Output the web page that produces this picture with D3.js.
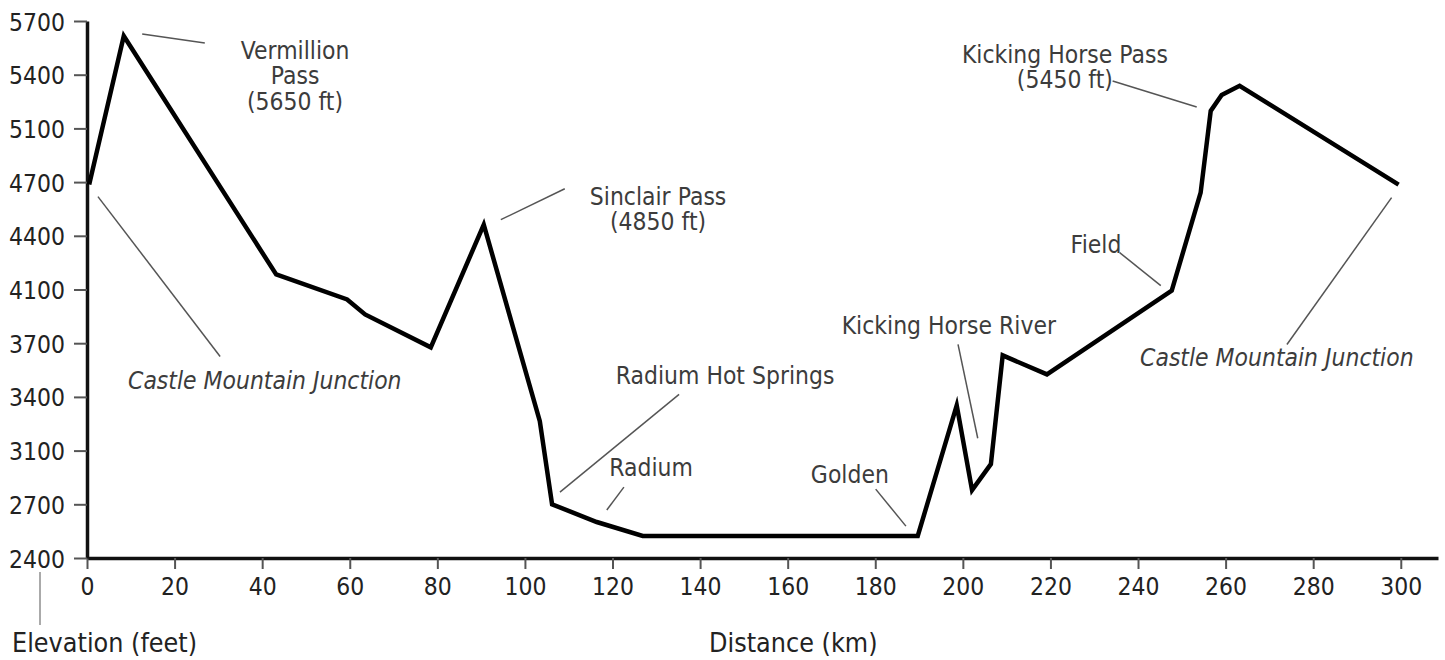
<!DOCTYPE html>
<html lang="en">
<head>
  <meta charset="UTF-8">
  <title>Elevation profile</title>
  <script src="https://d3js.org/d3.v7.min.js"></script>
  <style>
    body { margin: 0; background: #fff; }
  </style>
</head>
<body>
<div id="chart"></div>

<script>
  // route profile: distance (km) and elevation (feet)
  var distanceKm = [0.5, 8.4, 43.2, 59.4, 63.5, 78.5, 90.6, 103.4, 106.2, 116.4, 126.9,
    189.7, 198.6, 202.1, 206.4, 209.1, 219.2, 247.7, 254.3, 256.6, 259.1, 263.2, 299.5];
  var elevationFt = [4686, 5616, 4184, 4026, 3914, 3677, 4462, 3264, 2700, 2601, 2523,
    2523, 3353, 2806, 2999, 3632, 3526, 4092, 4641, 5198, 5287, 5338, 4686];

  // axis ticks (the y labels are evenly spaced on the page)
  var yTicks = [2400, 2700, 3100, 3400, 3700, 4100, 4400, 4700, 5100, 5400, 5700];
  var xTicks = [0, 20, 40, 60, 80, 100, 120, 140, 160, 180, 200, 220, 240, 260, 280, 300];

  // place names, anchored in km / feet
  var places = [
    { lines: ["Vermillion", "Pass", "(5650 ft)"], km: 47.5, ft: 5488 },
    { lines: ["Sinclair Pass", "(4850 ft)"], km: 130.4, ft: 4574 },
    { lines: ["Radium Hot Springs"], km: 145.7, ft: 3470 },
    { lines: ["Radium"], km: 128.8, ft: 2910 },
    { lines: ["Golden"], km: 174.2, ft: 2858 },
    { lines: ["Kicking Horse River"], km: 196.8, ft: 3766 },
    { lines: ["Field"], km: 230.4, ft: 4306 },
    { lines: ["Kicking Horse Pass", "(5450 ft)"], km: 223.3, ft: 5466 },
    { lines: ["Castle Mountain Junction"], km: 40.6, ft: 3442 },
    { lines: ["Castle Mountain Junction"], km: 271.7, ft: 3571 }
  ];

  // pointer lines: [km1, ft1, km2, ft2]
  var pointers = [
    [12.6, 5627, 26.9, 5577],
    [2.5, 4619, 30.4, 3626],
    [94.5, 4490, 109.1, 4663],
    [108.0, 2791, 135.2, 3414],
    [118.7, 2668, 122.6, 2828],
    [180.1, 2813, 187.0, 2578],
    [198.9, 3693, 203.4, 3169],
    [235.8, 4306, 245.2, 4122],
    [234.2, 5365, 253.4, 5220],
    [297.9, 4613, 274.0, 3693]
  ];

  var width = 1445, height = 660;
  var plotLeft = 87, plotRight = 1438, plotTop = 21, plotBottom = 558;
  var font = "'DejaVu Sans', sans-serif";
  var stretch = 1.12; // the lettering in the original is a bit tall

  var svg = d3.select("#chart")
    .append("svg")
    .attr("width", width)
    .attr("height", height);

  var x = d3.scaleLinear()
    .domain([0, 308.5])
    .range([plotLeft, plotRight]);

  var step = (plotBottom - plotTop) / (yTicks.length - 1);
  var y = d3.scaleLinear()
    .domain(yTicks)
    .range(yTicks.map(function(d, i) { return plotBottom - i * step; }));

  // x axis
  var gx = svg.append("g")
    .attr("transform", "translate(0," + plotBottom + ")")
    .call(d3.axisBottom(x).tickValues(xTicks).tickSize(11).tickSizeOuter(0));
  gx.select(".domain").attr("stroke", "#111").attr("stroke-width", 3.5);
  gx.selectAll(".tick line").attr("stroke", "#555").attr("stroke-width", 2);
  gx.selectAll(".tick text")
    .attr("y", 0).attr("dy", null)
    .attr("transform", "translate(0,37) scale(1," + stretch + ")")
    .style("font-family", font).style("font-size", "22px").attr("fill", "#222");

  // y axis
  var gy = svg.append("g")
    .attr("transform", "translate(" + plotLeft + ",0)")
    .call(d3.axisLeft(y).tickValues(yTicks).tickFormat(d3.format("d"))
      .tickSize(13).tickSizeOuter(0));
  gy.select(".domain").attr("stroke", "#111").attr("stroke-width", 3.5);
  gy.selectAll(".tick line").attr("stroke", "#555").attr("stroke-width", 2);
  gy.selectAll(".tick text")
    .attr("x", 0).attr("dy", null)
    .attr("transform", "translate(-22,9) scale(1," + stretch + ")")
    .style("font-family", font).style("font-size", "22px").attr("fill", "#222");

  // pointer lines
  svg.append("g")
    .selectAll("line")
    .data(pointers)
    .enter()
    .append("line")
    .attr("x1", function(d) { return x(d[0]); })
    .attr("y1", function(d) { return y(d[1]); })
    .attr("x2", function(d) { return x(d[2]); })
    .attr("y2", function(d) { return y(d[3]); })
    .attr("stroke", "#555")
    .attr("stroke-width", 1.5);

  // the profile
  var line = d3.line()
    .x(function(d, i) { return x(distanceKm[i]); })
    .y(function(d) { return y(d); });

  svg.append("path")
    .datum(elevationFt)
    .attr("d", line)
    .attr("fill", "none")
    .attr("stroke", "#000")
    .attr("stroke-width", 4.5)
    .attr("stroke-linejoin", "miter")
    .attr("stroke-miterlimit", 10);

  // place labels
  var labels = svg.append("g")
    .selectAll("text")
    .data(places)
    .enter()
    .append("text")
    .attr("transform", function(d) {
      return "translate(" + x(d.km) + "," + y(d.ft) + ") scale(1," + stretch + ")";
    })
    .attr("text-anchor", "middle")
    .style("font-family", font)
    .style("font-size", "22px")
    .style("font-style", function(d) {
      return d.lines[0] == "Castle Mountain Junction" ? "italic" : "normal";
    })
    .attr("fill", "#3c3c3c");

  labels.selectAll("tspan")
    .data(function(d) { return d.lines; })
    .enter()
    .append("tspan")
    .attr("x", 0)
    .attr("dy", function(d, i) { return i == 0 ? 0 : 25.5 / stretch; })
    .text(function(d) { return d; });

  // axis titles
  svg.append("line")
    .attr("x1", 40).attr("x2", 40)
    .attr("y1", 572).attr("y2", 625)
    .attr("stroke", "#aaa")
    .attr("stroke-width", 2);

  svg.append("text")
    .attr("transform", "translate(12,652) scale(1," + stretch + ")")
    .style("font-family", font)
    .style("font-size", "24px")
    .attr("fill", "#222")
    .text("Elevation (feet)");

  svg.append("text")
    .attr("transform", "translate(709,652) scale(1," + stretch + ")")
    .style("font-family", font)
    .style("font-size", "24px")
    .attr("fill", "#222")
    .text("Distance (km)");
</script>
</body>
</html>
